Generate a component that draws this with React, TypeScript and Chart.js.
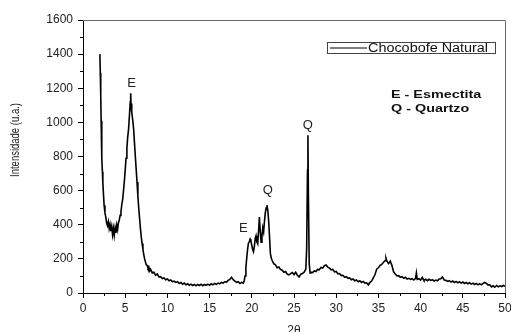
import React, { useEffect, useRef } from "react";
import { Chart, registerables } from "chart.js";

Chart.register(...registerables);

const twoTheta: number[] = [
  2.0, 2.05, 2.1, 2.15, 2.2, 2.25, 2.3, 2.35, 2.4, 2.5,
  2.6, 2.7, 2.8, 2.9, 3.0, 3.1, 3.2, 3.3, 3.4, 3.5,
  3.6, 3.7, 3.8, 3.9, 4.0, 4.1, 4.2, 4.3, 4.4, 4.5,
  4.6, 4.7, 4.8, 4.9, 5.0, 5.1, 5.2, 5.3, 5.4, 5.5,
  5.6, 5.65, 5.7, 5.75, 5.8, 5.9, 6.0, 6.1, 6.2, 6.3,
  6.4, 6.5, 6.6, 6.7, 6.8, 6.9, 7.0, 7.1, 7.2, 7.3,
  7.4, 7.5, 7.6, 7.7, 7.8, 7.9, 8.0, 8.2, 8.4, 8.6,
  8.8, 9.0, 9.2, 9.4, 9.6, 9.8, 10.0, 10.2, 10.4, 10.6,
  10.8, 11.0, 11.2, 11.4, 11.6, 11.8, 12.0, 12.2, 12.4, 12.6,
  12.8, 13.0, 13.2, 13.4, 13.6, 13.8, 14.0, 14.2, 14.4, 14.6,
  14.8, 15.0, 15.2, 15.4, 15.6, 15.8, 16.0, 16.2, 16.4, 16.6,
  16.8, 17.0, 17.2, 17.4, 17.6, 17.8, 18.0, 18.2, 18.4, 18.6,
  18.8, 19.0, 19.1, 19.2, 19.3, 19.4, 19.5, 19.6, 19.7, 19.8,
  19.9, 20.0, 20.1, 20.2, 20.3, 20.4, 20.5, 20.6, 20.7, 20.8,
  20.9, 21.0, 21.1, 21.2, 21.3, 21.4, 21.5, 21.6, 21.7, 21.8,
  21.9, 22.0, 22.1, 22.2, 22.3, 22.4, 22.6, 22.8, 23.0, 23.2,
  23.4, 23.6, 23.8, 24.0, 24.2, 24.4, 24.6, 24.8, 25.0, 25.2,
  25.4, 25.6, 25.8, 26.0, 26.2, 26.4, 26.5, 26.6, 26.65, 26.7,
  26.8, 26.9, 27.0, 27.2, 27.4, 27.6, 27.8, 28.0, 28.2, 28.4,
  28.6, 28.8, 29.0, 29.2, 29.4, 29.6, 29.8, 30.0, 30.2, 30.4,
  30.6, 30.8, 31.0, 31.2, 31.4, 31.6, 31.8, 32.0, 32.2, 32.4,
  32.6, 32.8, 33.0, 33.2, 33.4, 33.6, 33.8, 34.0, 34.2, 34.4,
  34.6, 34.8, 35.0, 35.2, 35.4, 35.6, 35.8, 35.9, 36.0, 36.2,
  36.4, 36.6, 36.8, 37.0, 37.2, 37.4, 37.6, 37.8, 38.0, 38.2,
  38.4, 38.6, 38.8, 39.0, 39.2, 39.4, 39.5, 39.6, 39.8, 40.0,
  40.2, 40.3, 40.4, 40.6, 40.8, 41.0, 41.2, 41.4, 41.6, 41.8,
  42.0, 42.2, 42.4, 42.6, 42.8, 43.0, 43.2, 43.4, 43.6, 43.8,
  44.0, 44.2, 44.4, 44.6, 44.8, 45.0, 45.2, 45.4, 45.6, 45.8,
  46.0, 46.2, 46.4, 46.6, 46.8, 47.0, 47.2, 47.4, 47.6, 47.8,
  48.0, 48.2, 48.4, 48.6, 48.8, 49.0, 49.2, 49.4, 49.6, 49.8,
  50.0,
];

const intensity: number[] = [
  1400, 1290, 1160, 1010, 880, 790, 710, 650, 600, 515,
  470, 445, 410, 395, 418, 378, 402, 362, 390, 342,
  378, 338, 382, 352, 398, 372, 412, 428, 455, 478,
  520, 548, 600, 655, 720, 790, 850, 915, 960, 1040,
  1120, 1170, 1090, 1110, 1060, 1010, 960, 880, 800, 725,
  650, 570, 500, 440, 380, 330, 290, 255, 225, 200,
  182, 165, 162, 145, 152, 130, 140, 118, 122, 104,
  112, 94, 96, 85, 88, 78, 82, 72, 76, 66,
  70, 62, 66, 56, 62, 52, 58, 48, 54, 46,
  52, 44, 50, 42, 50, 44, 51, 43, 50, 45,
  52, 46, 54, 48, 56, 51, 58, 54, 62, 58,
  66, 64, 74, 80, 92, 78, 70, 62, 66, 56,
  62, 58, 72, 100, 150, 205, 255, 292, 300, 315,
  302, 280, 255, 242, 272, 318, 335, 298, 288, 362,
  445, 362, 298, 332, 382, 358, 420, 470, 498, 515,
  482, 420, 330, 232, 205, 192, 172, 165, 148, 152,
  138, 134, 122, 126, 110, 106, 114, 120, 108, 122,
  104, 94, 110, 114, 122, 140, 260, 720, 925, 600,
  175, 118, 122, 120, 130, 126, 138, 136, 150, 146,
  160, 164, 152, 146, 136, 138, 124, 126, 112, 114,
  102, 104, 92, 96, 86, 88, 78, 82, 72, 76,
  66, 72, 62, 68, 58, 60, 48, 62, 70, 88,
  108, 140, 148, 162, 168, 180, 190, 205, 188, 172,
  186, 162, 124, 112, 100, 102, 92, 96, 86, 92,
  82, 86, 80, 84, 76, 86, 118, 80, 84, 76,
  92, 82, 74, 80, 72, 80, 74, 78, 70, 76,
  72, 82, 84, 94, 76, 74, 68, 72, 64, 70,
  62, 68, 60, 66, 58, 64, 56, 62, 54, 60,
  52, 58, 50, 56, 48, 54, 48, 56, 62, 56,
  46, 48, 36, 42, 34, 44, 36, 42, 38, 44,
  40,
];

const seriesLabel = "Chocobofe Natural";
const xTitle = "2θ";
const yTitle = "Intensidade (u.a.)";
const peakLabels = [
  { text: "E", x: 5.75, y: 1231 },
  { text: "E", x: 19.0, y: 381 },
  { text: "Q", x: 21.9, y: 600 },
  { text: "Q", x: 26.65, y: 985 },
];
const keyLines = ["E - Esmectita", "Q - Quartzo"];

const FONT = "'Liberation Sans', Arial, sans-serif";

const decorPlugin = {
  id: "decor",
  afterDraw(chart: any) {
    const ctx = chart.ctx as CanvasRenderingContext2D;
    const { left, right, top, bottom } = chart.chartArea;
    const xs = chart.scales.x;
    const ys = chart.scales.y;
    ctx.save();
    // top and right frame
    ctx.strokeStyle = "#6a6a6a";
    ctx.lineWidth = 1;
    ctx.beginPath();
    ctx.moveTo(left, top + 0.5);
    ctx.lineTo(right + 0.5, top + 0.5);
    ctx.lineTo(right + 0.5, bottom);
    ctx.stroke();
    // minor ticks
    ctx.strokeStyle = "#000";
    ctx.beginPath();
    for (let v = 2.5; v < 50; v += 5) {
      const px = Math.round(xs.getPixelForValue(v)) + 0.5;
      ctx.moveTo(px, bottom);
      ctx.lineTo(px, bottom + 3);
    }
    for (let v = 100; v < 1600; v += 200) {
      const py = Math.round(ys.getPixelForValue(v)) + 0.5;
      ctx.moveTo(left, py);
      ctx.lineTo(left - 3, py);
    }
    ctx.stroke();

    // y title
    ctx.fillStyle = "#222";
    ctx.font = `10px ${FONT}`;
    ctx.textAlign = "center";
    ctx.textBaseline = "middle";
    ctx.save();
    ctx.translate(16, 140);
    ctx.rotate(-Math.PI / 2);
    ctx.scale(0.95, 1.2);
    ctx.fillText(yTitle, 0, 0);
    ctx.restore();

    // peak labels
    ctx.font = `13px ${FONT}`;
    ctx.fillStyle = "#222";
    for (const p of peakLabels) {
      ctx.fillText(p.text, xs.getPixelForValue(p.x), ys.getPixelForValue(p.y));
    }

    // legend box
    const bx = right - 178;
    const by = top + 22;
    ctx.strokeStyle = "#444";
    ctx.strokeRect(bx + 0.5, by + 0.5, 168, 11);
    ctx.strokeStyle = "#000";
    ctx.beginPath();
    ctx.moveTo(bx + 3, by + 6);
    ctx.lineTo(bx + 40, by + 6);
    ctx.stroke();
    ctx.save();
    ctx.translate(bx + 41, by + 6.5);
    ctx.scale(1.2, 1);
    ctx.font = `12px ${FONT}`;
    ctx.textAlign = "left";
    ctx.fillStyle = "#111";
    ctx.fillText(seriesLabel, 0, 0);
    ctx.restore();

    // key text
    ctx.save();
    ctx.font = `bold 11.5px ${FONT}`;
    ctx.textAlign = "left";
    ctx.fillStyle = "#111";
    keyLines.forEach((t, i) => {
      ctx.save();
      ctx.translate(right - 114, top + 75 + i * 14);
      ctx.scale(1.25, 1);
      ctx.fillText(t, 0, 0);
      ctx.restore();
    });
    ctx.restore();
    ctx.restore();
  },
};

export default function App() {
  const ref = useRef<HTMLCanvasElement | null>(null);
  useEffect(() => {
    if (!ref.current) return;
    const data = twoTheta.map((x, i) => ({ x, y: intensity[i] }));
    const chart = new Chart(ref.current, {
      type: "line",
      data: {
        datasets: [
          {
            label: seriesLabel,
            data,
            borderColor: "#000",
            borderWidth: 1.6,
            pointRadius: 0,
            tension: 0,
            fill: false,
          },
        ],
      },
      options: {
        responsive: false,
        animation: false,
        devicePixelRatio: 1,
        layout: { padding: { left: 0, right: 15, top: 20, bottom: 0 } },
        plugins: { legend: { display: false }, tooltip: { enabled: false } },
        scales: {
          x: {
            type: "linear",
            min: 0,
            max: 50,
            afterFit: (s: any) => {
              s.height = 47;
            },
            ticks: {
              stepSize: 5,
              padding: 3,
              color: "#222",
              font: { family: FONT, size: 12 },
              maxRotation: 0,
              callback: (v: any) => String(v),
            },
            grid: {
              drawOnChartArea: false,
              drawTicks: true,
              tickLength: 5,
              tickColor: "#000",
            },
            border: { display: true, color: "#000", width: 1 },
            title: {
              display: true,
              text: xTitle,
              color: "#222",
              font: { family: FONT, size: 12 },
              padding: { top: 0, bottom: 2 },
            },
          },
          y: {
            min: 0,
            max: 1600,
            afterFit: (s: any) => {
              s.width = 83;
            },
            ticks: {
              stepSize: 200,
              padding: 5,
              color: "#222",
              font: { family: FONT, size: 12 },
              callback: (v: any) => String(v),
            },
            grid: {
              drawOnChartArea: false,
              drawTicks: true,
              tickLength: 5,
              tickColor: "#000",
            },
            border: { display: true, color: "#000", width: 1 },
          },
        },
      },
      plugins: [decorPlugin],
    });
    return () => chart.destroy();
  }, []);
  return (
    <div
      style={{
        position: "absolute",
        left: 0,
        top: 0,
        width: 511,
        height: 332,
        overflow: "hidden",
        background: "#fff",
      }}
    >
      <canvas ref={ref} width={520} height={340} style={{ display: "block", width: 520, height: 340 }} />
    </div>
  );
}
